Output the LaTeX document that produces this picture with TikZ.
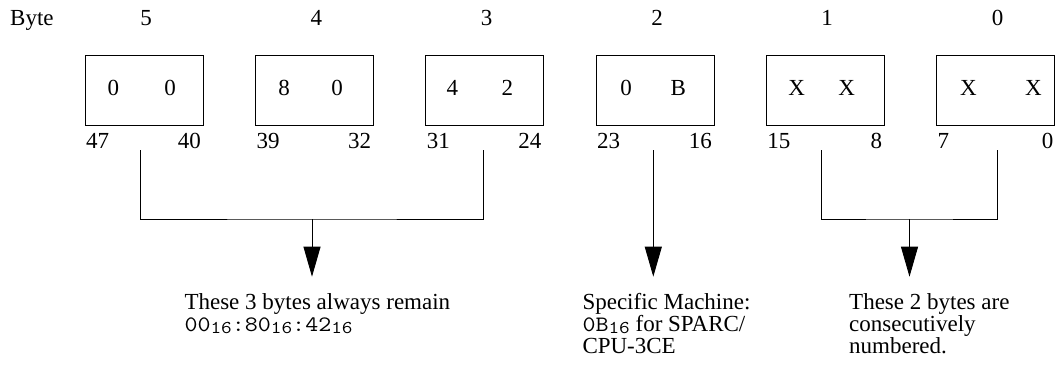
\documentclass[tikz,border=0pt]{standalone}
\usepackage{fontspec}
\setmainfont{Liberation Serif}
\newfontfamily\hexmono{Latin Modern Mono}[FakeStretch=1.15]
\usetikzlibrary{arrows.meta}
\newcommand\hexval[1]{{\fontsize{22}{20}\selectfont\hexmono #1}}
\newcommand\hexsub[1]{\raisebox{-2.5pt}{\fontsize{18}{18}\selectfont\hexmono #1}}
\begin{document}
\begin{tikzpicture}[x=1pt,y=-1pt,
  every node/.style={inner sep=0pt, font=\fontsize{23}{22}\selectfont},
  bytebox/.style={draw, line width=0.9pt, minimum width=118pt, minimum height=70.7pt},
  conn/.style={line width=0.9pt},
  downarrow/.style={conn, -{Triangle[length=30pt,width=17pt]}},
  note/.style={anchor=base west},
  bitl/.style={anchor=west},
  bitr/.style={anchor=east},
  bytenum/.style={anchor=base}]
\useasboundingbox (0,0) rectangle (1058,369);

% byte header
\node[anchor=base west] (bytelbl) at (10,26) {Byte};
\node[bytenum] (n5) at (146,26) {5};
\node[bytenum] (n4) at (316.3,26) {4};
\node[bytenum] (n3) at (486.6,26) {3};
\node[bytenum] (n2) at (657,26) {2};
\node[bytenum] (n1) at (827.2,26) {1};
\node[bytenum] (n0) at (997.5,26) {0};

% boxes
\node[bytebox] (b5) at (144,90.35) {};
\node[bytebox] (b4) at (314.3,90.35) {};
\node[bytebox] (b3) at (484.6,90.35) {};
\node[bytebox] (b2) at (655,90.35) {};
\node[bytebox] (b1) at (825.2,90.35) {};
\node[bytebox] (b0) at (995.5,90.35) {};

% box contents
\node (d5a) at (113.3,88) {0};  \node (d5b) at (170,88) {0};
\node (d4a) at (284,88) {8};    \node (d4b) at (337,88) {0};
\node (d3a) at (452.3,88) {4};  \node (d3b) at (507.3,88) {2};
\node (d2a) at (626,88) {0};    \node (d2b) at (678.3,88) {B};
\node (d1a) at (796.7,88) {X};  \node (d1b) at (846.7,88) {X};
\node (d0a) at (968.3,88) {X};  \node (d0b) at (1033.3,88) {X};

% bit numbers
\node[bitl] (l47) at (86,141) {47};  \node[bitr] (l40) at (201,141) {40};
\node[bitl] (l39) at (256.3,141) {39}; \node[bitr] (l32) at (371.3,141) {32};
\node[bitl] (l31) at (426.6,141) {31}; \node[bitr] (l24) at (541.6,141) {24};
\node[bitl] (l23) at (597,141) {23};  \node[bitr] (l16) at (712,141) {16};
\node[bitl] (l15) at (767.2,141) {15}; \node[bitr] (l8) at (882.2,141) {8};
\node[bitl] (l7) at (937.5,141) {7};  \node[bitr] (l0) at (1053.5,141) {0};

% connectors
\coordinate (t5) at (140.7,150);
\coordinate (t3) at (483.3,150);
\coordinate (j1) at (312,219);
\coordinate (e1) at (312,276.7);
\draw[conn] (t5) |- (j1) -| (t3);
\draw[downarrow] (j1) -- (e1);

\coordinate (t2) at (653.3,150);
\coordinate (e2) at (653.3,276.7);
\draw[downarrow] (t2) -- (e2);

\coordinate (t1) at (821.7,150);
\coordinate (t0) at (997.3,150);
\coordinate (j2) at (909.5,219);
\coordinate (e3) at (909.5,276.7);
\draw[conn] (t1) |- (j2) -| (t0);
\draw[downarrow] (j2) -- (e3);

% notes
\node[note] (noteA) at (184.3,309) {\vtop{\hbox{These 3 bytes always remain}
  \hbox{\hexval{00}\hexsub{16}\hexval{:80}\hexsub{16}\hexval{:42}\hexsub{16}}}};
\node[note] (noteB) at (582.3,309) {\vtop{\hbox{Specific Machine:}
  \hbox{\hexval{0B}\hexsub{16} for SPARC/}\hbox{CPU-3CE}}};
\node[note] (noteC) at (849,309) {\vtop{\hbox{These 2 bytes are}
  \hbox{consecutively}\hbox{numbered.}}};
\end{tikzpicture}
\end{document}
